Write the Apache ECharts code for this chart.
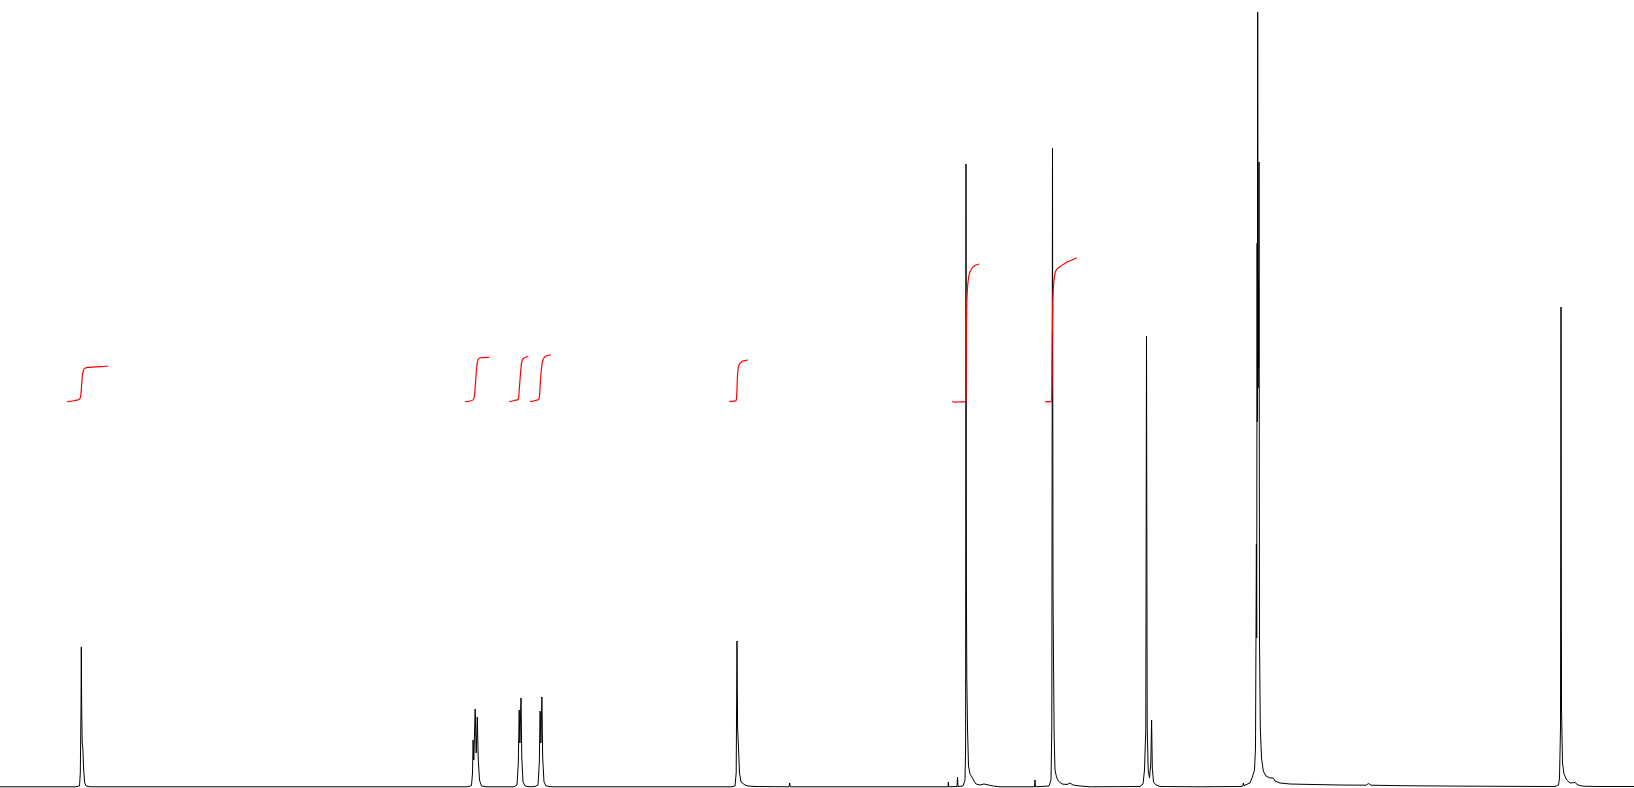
<!DOCTYPE html>
<html>
<head>
<meta charset="utf-8">
<script src="https://cdn.jsdelivr.net/npm/echarts@6/dist/echarts.min.js"></script>
<style>
html,body{margin:0;padding:0;background:#fff;}
#chart{width:1634px;height:788px;}
</style>
</head>
<body>
<div id="chart"></div>
<script>
// Spectrum: [shift position, intensity]
const peakA = [[0,1.2],[76,1.2],[79.5,2],[80.3,15],[81.0,80],[81.3,141],[81.7,80],[82.2,45],[82.8,40],[83.5,22],[84.5,6],[86,2],[90,1.2]];
const peakB = [[443,1.2],[443.5,2.5],[444,1.2],[468,1.2],[471.5,2.5],[472.5,15],[473.1,48],[473.8,28],[475.2,79],[476.2,35],[477.3,71],[478.2,30],[479.5,8],[481.5,2],[486,1.2]];
const peakC = [[514,1.2],[517,3],[518.3,25],[519.2,78],[519.9,45],[521,90],[521.8,30],[523,6],[525,2],[530,1.2]];
const peakD = [[535,1.5],[538,3],[539.3,25],[540.1,77],[540.9,45],[541.9,91],[542.7,30],[544,6],[546,2],[552,1.2]];
const peakE = [[731,1.2],[735,2],[736.2,15],[737,147],[737.6,60],[738.5,40],[739.5,15],[741,6],[743,4],[745,3],[748,2],[755,1.5],[789,1.2],[789.7,5],[790.3,1.2],[800,1.2]];
const peakF = [[900,1.2],[948,1.2],[948.4,6],[948.8,1.2],[957,1.5],[957.5,11],[958,1.5],[963,2],[965,8],[965.6,40],[966,624],[966.4,200],[966.8,111],[967.5,60],[968.5,22],[970,14],[972,11],[974,7],[976,4],[980,3],[984,4],[985,6],[986,3],[993,2],[1000,1.2]];
const peakG = [[1034.5,1.2],[1035,8],[1035.5,1.2],[1049,2],[1051,8],[1051.8,60],[1052.5,640],[1053,200],[1053.5,126],[1054.2,50],[1055,18],[1056.5,11],[1058.3,7],[1062,4],[1067,3.5],[1070,5],[1073,3],[1080,2],[1090,1.2]];
const peakH = [[1140,1.5],[1143,4],[1144.5,18],[1145.8,60],[1146.5,452],[1147.2,60],[1148.2,18],[1149.5,10],[1150.8,25],[1151.6,68],[1152.3,20],[1153.5,6],[1156,3],[1160,1.5],[1200,1.2]];
const peakI = [[1240,1.5],[1243,2],[1243.3,5],[1244,2.5],[1250,5],[1252,10],[1253.3,12],[1254.5,18],[1255.5,40],[1256.4,244],[1256.7,150],[1257.1,545],[1257.4,366],[1257.7,776],[1258.1,400],[1258.5,509],[1258.7,420],[1259.0,626],[1259.5,150],[1260.3,60],[1261.5,30],[1263.3,17],[1266,12],[1270,10],[1272,9],[1273.3,10],[1275,7],[1280,5],[1290,4],[1303,3.7],[1340,3],[1366,2.8],[1368.5,4.5],[1371,2.8],[1400,2.3],[1443,2],[1500,1.7]];
const peakJ = [[1555,1.5],[1558.5,3],[1559.5,10],[1560.5,60],[1561,481],[1561.5,80],[1562.5,25],[1564,14],[1566.7,8],[1570,5],[1575,5.5],[1578,3],[1583,1.8],[1600,1.5],[1634,1.5]];

// Integral curves
const int1 = [[67.3,386.3],[75,387.5],[80,389.5],[81,395],[82,408],[83,416],[85,419.7],[90,420.7],[100,421.3],[108.3,422]];
const int2 = [[465,386.3],[470,387],[473.3,388.5],[474.5,393],[475.5,405],[476.5,418],[477.5,426],[479,429.5],[482,430.3],[489.3,430.7]];
const int3 = [[509.3,386.3],[514,387.5],[518.3,389],[519.2,398],[520,408],[521,420],[522,427],[524,430],[528.3,431.3]];
const int4 = [[530,386.3],[535,387.5],[539,389],[540,400],[540.7,411],[541.7,421],[542.7,427],[545,431.3],[551,433]];
const int5 = [[729.3,386.3],[733,386.8],[736,387.3],[736.7,393],[737.3,408],[738,418],[739,423],[741.7,426.3],[745,427.3],[748.3,428]];
const int6 = [[952.3,386.8],[955,385.8],[958,386],[965,386.3],[966,388],[966.3,430],[966.7,481],[967.5,500],[968.3,508],[970,516.3],[973.3,521.3],[976,523],[979.3,524]];
const int7 = [[1045.3,386.3],[1051,386.3],[1051.7,390],[1052.2,440],[1052.7,480],[1053.3,498],[1055,514.7],[1057,519],[1060,521.3],[1066.7,525.7],[1072,528],[1076.7,530.3]];

const spectrum = [].concat(peakA, peakB, peakC, peakD, peakE, peakF, peakG, peakH, peakI, peakJ);
const integrals = [int1, int2, int3, int4, int5, int6, int7];

const chart = echarts.init(document.getElementById('chart'), null, {renderer: 'canvas'});
const series = [{
  type: 'line',
  data: spectrum,
  showSymbol: false,
  symbol: 'none',
  smooth: false,
  sampling: null,
  lineStyle: {color: '#000000', width: 1},
  animation: false,
  z: 2
}];
integrals.forEach(function (d) {
  series.push({
    type: 'line',
    data: d,
    showSymbol: false,
    symbol: 'none',
    smooth: true,
    lineStyle: {color: '#ff0000', width: 1.2},
    animation: false,
    z: 3
  });
});
chart.setOption({
  backgroundColor: '#ffffff',
  animation: false,
  grid: {left: 0, right: 0, top: 0, bottom: 0},
  xAxis: {type: 'value', min: 0, max: 1634, show: false},
  yAxis: {type: 'value', min: 0, max: 788, show: false},
  series: series
});
</script>
</body>
</html>
